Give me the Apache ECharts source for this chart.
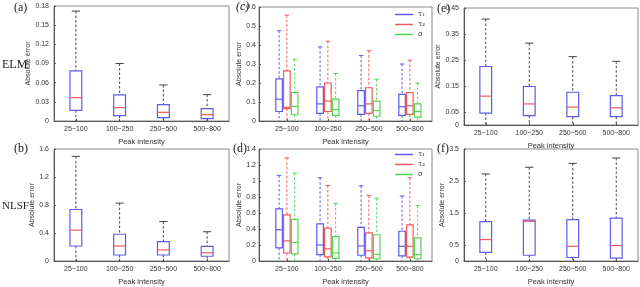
<!DOCTYPE html>
<html><head><meta charset="utf-8">
<script src="https://cdn.jsdelivr.net/npm/echarts@6/dist/echarts.min.js"></script>
<style>html,body{margin:0;padding:0;background:#fff}#c{width:640px;height:287px}</style>
</head><body><div id="c"></div>
<script>
// ---- data: each box = [min, q1, median, q3, max] ----
const categories = ['25~100', '100~250', '250~500', '500~800'];
const seriesNames = ['\u03c4\u2081', '\u03c4\u2082', '\u03c3'];
const ticksE = [0, 0.05, 0.15, 0.25, 0.35, 0.45];
const ticksF = [0, 0.5, 1.5, 2.5, 3.5];

const elmPeak = [[0, 0.0167, 0.0366, 0.0784, 0.172], [0, 0.0084, 0.0209, 0.0408, 0.09], [0, 0.0052, 0.0136, 0.0256, 0.0564], [0, 0.0037, 0.0099, 0.0193, 0.0413]];
const nlsfPeak = [[0, 0.214, 0.441, 0.736, 1.495], [0, 0.086, 0.214, 0.382, 0.827], [0, 0.086, 0.159, 0.277, 0.564], [0, 0.068, 0.118, 0.209, 0.418]];

const elmTau1 = [[0, 0.05, 0.115, 0.222, 0.475], [0, 0.04, 0.09, 0.18, 0.39], [0, 0.035, 0.08, 0.16, 0.345], [0, 0.03, 0.075, 0.14, 0.30]];
const elmTau2 = [[0, 0.065, 0.072, 0.264, 0.557], [0, 0.05, 0.105, 0.2, 0.42], [0, 0.04, 0.09, 0.175, 0.37], [0, 0.035, 0.08, 0.15, 0.32]];
const elmSigma = [[0, 0.033, 0.077, 0.15, 0.325], [0, 0.03, 0.06, 0.115, 0.25], [0, 0.025, 0.055, 0.105, 0.22], [0, 0.02, 0.05, 0.09, 0.2]];

const nlsfTau1 = [[0, 0.164, 0.39, 0.652, 1.07], [0, 0.08, 0.2, 0.464, 1.04], [0, 0.072, 0.188, 0.42, 0.94], [0, 0.064, 0.184, 0.372, 0.812]];
const nlsfTau2 = [[0, 0.1, 0.252, 0.576, 1.29], [0, 0.052, 0.152, 0.412, 0.944], [0, 0.04, 0.128, 0.352, 0.82], [0, 0.048, 0.184, 0.452, 1.04]];
const nlsfSigma = [[0, 0.088, 0.232, 0.52, 1.10], [0, 0.032, 0.1, 0.304, 0.72], [0, 0.028, 0.084, 0.328, 0.784], [0, 0.028, 0.08, 0.288, 0.692]];

const elmShape = [[0, 0.046, 0.111, 0.225, 0.4075], [0, 0.036, 0.081, 0.148, 0.315], [0, 0.032, 0.069, 0.126, 0.263], [0, 0.032, 0.066, 0.113, 0.245]];
const nlsfShape = [[0, 0.27, 0.67, 1.23, 2.72], [0, 0.18, 1.24, 1.28, 2.93], [0, 0.11, 0.46, 1.29, 3.05], [0, 0.09, 0.48, 1.34, 3.22]];

// ---- rendering ----
const chart = echarts.init(document.getElementById('c'), null, {renderer: 'canvas'});
const BLUE = '#5b5bf0', RED = '#f05a5a', GREEN = '#4fd84f', GREYLINE = '#444';
const tickPos = [1, 2, 3, 4];

function boxRender(boxW, boxColor, medColor, whiskColor) {
  return function (params, api) {
    const x = api.value(0);
    const vmin = api.value(1), q1 = api.value(2), med = api.value(3), q3 = api.value(4), vmax = api.value(5);
    const w = api.size([boxW, 0])[0];
    const cw = w * 0.35;
    const pMax = api.coord([x, vmax]), pQ3 = api.coord([x, q3]), pMed = api.coord([x, med]), pQ1 = api.coord([x, q1]), pMin = api.coord([x, vmin]);
    const cx = pMax[0];
    const dash = {stroke: whiskColor, lineWidth: 1, lineDash: [2.5, 2]};
    const solid = {stroke: whiskColor, lineWidth: 1};
    return {type: 'group', children: [
      {type: 'line', shape: {x1: cx, y1: pMax[1], x2: cx, y2: pQ3[1]}, style: dash},
      {type: 'line', shape: {x1: cx, y1: pQ1[1], x2: cx, y2: pMin[1]}, style: dash},
      {type: 'line', shape: {x1: cx - cw, y1: pMax[1], x2: cx + cw, y2: pMax[1]}, style: solid},
      {type: 'rect', shape: {x: cx - w / 2, y: pQ3[1], width: w, height: pQ1[1] - pQ3[1]}, style: {stroke: boxColor, fill: 'none', lineWidth: 1.2}},
      {type: 'line', shape: {x1: cx - w / 2, y1: pMed[1], x2: cx + w / 2, y2: pMed[1]}, style: {stroke: medColor, lineWidth: 1.2}}
    ]};
  };
}

function toData(stats, offset) {
  return stats.map((s, i) => [i + 1 + offset].concat(s));
}

const grids = [
  {left: 54, top: 6, width: 175, height: 115},
  {left: 54, top: 149, width: 175, height: 117},
  {left: 259, top: 7, width: 173, height: 114},
  {left: 259, top: 149, width: 173, height: 116},
  {left: 464, top: 8, width: 174, height: 117},
  {left: 464, top: 149, width: 174, height: 118}
].map(g => Object.assign({show: true, borderColor: '#8a8a8a', borderWidth: 1, containLabel: false}, g));

const axisFont = {fontSize: 7, color: '#333', fontFamily: 'Liberation Sans'};
function xAx(gi, min, max) {
  return {gridIndex: gi, type: 'value', min: min, max: max,
    axisLine: {show: true, onZero: false, lineStyle: {color: '#555', width: 1}},
    axisTick: {show: true, inside: true, length: 2, customValues: tickPos, lineStyle: {color: '#555'}},
    axisLabel: Object.assign({customValues: tickPos, margin: 5, formatter: v => categories[Math.round(v) - 1] || ''}, axisFont),
    splitLine: {show: false},
    name: 'Peak intensity', nameLocation: 'middle', nameGap: 17,
    nameTextStyle: {fontSize: 7.5, color: '#333', fontFamily: 'Liberation Sans'}};
}
function yAx(gi, max, interval, custom, margin) {
  const a = {gridIndex: gi, type: 'value', min: 0, max: max,
    axisLine: {show: true, lineStyle: {color: '#555', width: 1}},
    axisTick: {show: true, inside: true, length: 2, lineStyle: {color: '#555'}},
    axisLabel: Object.assign({margin: margin}, axisFont),
    splitLine: {show: false},
    name: 'Absolute error', nameLocation: 'middle', nameGap: 18, nameRotate: 90,
    nameTextStyle: {fontSize: 7, color: '#333', fontFamily: 'Liberation Sans'}};
  if (custom) { a.axisLabel.customValues = custom; a.axisTick.customValues = custom; }
  else a.interval = interval;
  return a;
}

const xAxis = [xAx(0, 0.5, 4.5), xAx(1, 0.5, 4.5), xAx(2, 0.32, 4.54), xAx(3, 0.32, 4.54), xAx(4, 0.5, 4.5), xAx(5, 0.5, 4.5)];
const yAxis = [yAx(0, 0.18, 0.03, null, 5), yAx(1, 1.6, 0.4, null, 5), yAx(2, 0.6, 0.1, null, 3), yAx(3, 1.4, 0.2, null, 3),
  yAx(4, 0.45, null, ticksE, 5), yAx(5, 3.5, null, ticksF, 5)];
yAxis[2].nameGap = 16; yAxis[3].nameGap = 16;

const dims = ['x', 'min', 'q1', 'median', 'q3', 'max'];
function single(gi, stats) {
  return {type: 'custom', xAxisIndex: gi, yAxisIndex: gi, renderItem: boxRender(0.27, BLUE, RED, GREYLINE),
    data: toData(stats, 0), dimensions: dims, encode: {x: 0, y: [1, 5]}, silent: true};
}
function group(gi, statsList) {
  const cols = [BLUE, RED, GREEN];
  const offs = [-0.19, 0, 0.19];
  return statsList.map((st, k) => ({type: 'custom', name: seriesNames[k], xAxisIndex: gi, yAxisIndex: gi,
    color: cols[k], renderItem: boxRender(0.16, cols[k], cols[k], cols[k]),
    data: toData(st, offs[k]), dimensions: dims, encode: {x: 0, y: [1, 5]}, silent: true}));
}

const series = [single(0, elmPeak), single(1, nlsfPeak)]
  .concat(group(2, [elmTau1, elmTau2, elmSigma]))
  .concat(group(3, [nlsfTau1, nlsfTau2, nlsfSigma]))
  .concat([single(4, elmShape), single(5, nlsfShape)]);

function legendAt(top) {
  return {top: top, right: 210, orient: 'vertical', itemGap: 3, itemWidth: 18, itemHeight: 1.5, icon: 'rect',
    data: seriesNames.map(n => ({name: n})), textStyle: {fontSize: 7, color: '#333', fontFamily: 'DejaVu Sans'},
    selectedMode: false};
}

const serif = {fontFamily: 'Liberation Serif', fill: '#222'};
const graphic = [
  {type: 'text', left: 14, top: 2, style: Object.assign({text: '(a)', fontSize: 12}, serif)},
  {type: 'text', left: 14, top: 143, style: Object.assign({text: '(b)', fontSize: 12}, serif)},
  {type: 'text', left: 236, top: 1, style: Object.assign({text: '(c)', fontSize: 12, fontStyle: 'italic'}, serif)},
  {type: 'text', left: 233, top: 143, style: Object.assign({text: '(d)', fontSize: 12}, serif)},
  {type: 'text', left: 437, top: 3, style: Object.assign({text: '(e)', fontSize: 12}, serif)},
  {type: 'text', left: 437, top: 143, style: Object.assign({text: '(f)', fontSize: 12}, serif)},
  {type: 'text', left: 2, top: 59, style: Object.assign({text: 'ELM', fontSize: 12}, serif)},
  {type: 'text', left: 2, top: 201, style: Object.assign({text: 'NLSF', fontSize: 11}, serif)}
];

chart.setOption({
  animation: false,
  backgroundColor: '#fff',
  grid: grids,
  xAxis: xAxis,
  yAxis: yAxis,
  legend: [legendAt(6), legendAt(146)],
  series: series,
  graphic: graphic
});
</script></body></html>
